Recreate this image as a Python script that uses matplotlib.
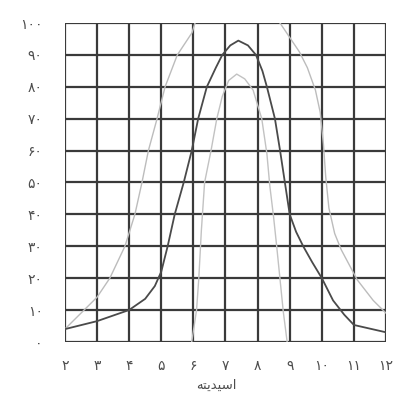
import matplotlib
matplotlib.use("Agg")
import matplotlib.pyplot as plt

# Persian digits for tick labels
FA = str.maketrans("0123456789", "۰۱۲۳۴۵۶۷۸۹")

x_ticks = list(range(2, 13))
y_ticks = list(range(0, 101, 10))
x_tick_labels = [str(v).translate(FA) for v in x_ticks]
y_tick_labels = [str(v).translate(FA) for v in y_ticks]

# Axis title "اسیدیته" written with presentation forms in display order
x_title = "\uFEEA\uFE98\uFEF3\uFEAA\uFEF4\uFEB3\uFE8D"

# Dark (middle) curve
dark_x = [2, 3, 4, 4.5, 4.8, 5, 5.2, 5.42, 5.7, 5.95, 6.15, 6.42, 6.7, 6.9, 7.15,
          7.4, 7.7, 7.95, 8.15, 8.29, 8.54, 8.7, 8.85, 9.0, 9.2, 9.42, 9.7, 10.0,
          10.35, 10.7, 11.0, 12]
dark_y = [4, 6.5, 10, 13.5, 17.5, 22, 30, 40, 50, 60, 70, 80, 86, 90, 93,
          94.5, 93, 90, 85, 80, 70, 60, 50, 40, 34.5, 30, 25, 20,
          13, 8.5, 5.3, 3]

# Light narrow curve
narrow_x = [5.95, 6.1, 6.17, 6.25, 6.35, 6.55, 6.73, 6.9, 7.1, 7.35, 7.6,
            7.86, 8.13, 8.29, 8.38, 8.5, 8.6, 8.7, 8.8, 8.92]
narrow_y = [0, 10, 20, 35, 50, 60, 70, 77, 82, 84, 82.5,
            79, 70, 59, 49, 39, 29.5, 19.5, 9.5, 0]

# Light wide curve (runs above the top of the axes between ~6 and ~8.7)
wide_x = [2, 2.6, 3, 3.4, 3.87, 4.18, 4.4, 4.6, 4.87, 5.12, 5.5, 5.96, 6.05,
          6.5, 7.4, 8.3, 8.7, 9.0, 9.3, 9.55, 9.8, 9.95, 10.05, 10.12, 10.22,
          10.4, 10.6, 11.1, 11.6, 12]
wide_y = [4, 10, 14, 20, 30, 40, 50, 60, 70, 80, 90, 97, 100,
          104, 106, 104, 100, 95.5, 91, 86, 79, 72, 62, 52, 42,
          34, 29, 19.5, 13, 9]

fig = plt.figure(figsize=(3.98, 3.98), dpi=100)
ax = fig.add_axes([0.163, 0.141, 0.807, 0.801])

grid_color = "#3a3a3a"
for v in x_ticks:
    ax.axvline(v, color=grid_color, lw=1.6, zorder=1)
for v in y_ticks:
    ax.axhline(v, color=grid_color, lw=1.6, zorder=1)

ax.plot(wide_x, wide_y, color="#bcbcbc", lw=1.0, zorder=2)
ax.plot(narrow_x, narrow_y, color="#c2c2c2", lw=1.0, zorder=2)
ax.plot(dark_x, dark_y, color="#4a4a4a", lw=1.3, zorder=3)

ax.set_xlim(2, 12)
ax.set_ylim(0, 100)
ax.set_xticks(x_ticks)
ax.set_xticklabels(x_tick_labels)
ax.set_yticks(y_ticks)
ax.set_yticklabels(y_tick_labels)
ax.tick_params(axis="both", length=0, labelsize=10, labelcolor="#4d4d4d")
ax.tick_params(axis="x", pad=12)
ax.tick_params(axis="y", pad=16)
for s in ax.spines.values():
    s.set_visible(False)

ax.set_xlabel(x_title, fontsize=9.5, color="#4d4d4d")
ax.xaxis.set_label_coords(0.47, -0.115)

fig.savefig("out.png", dpi=100, facecolor="white")
